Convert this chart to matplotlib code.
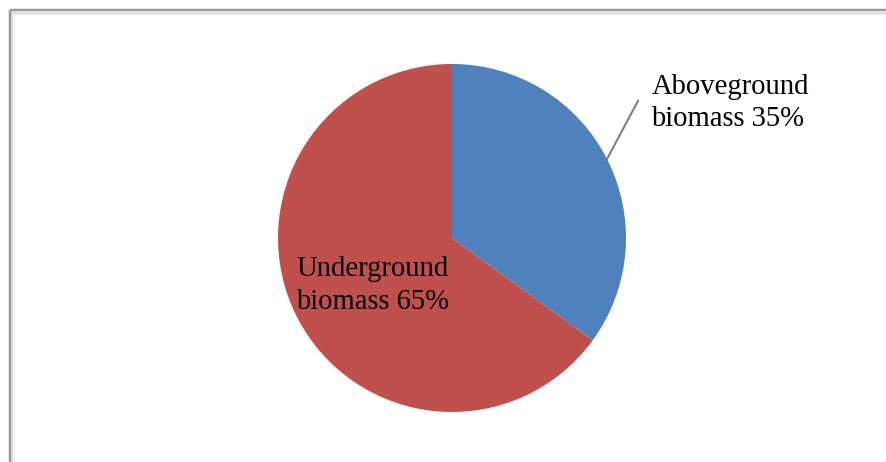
import numpy as np
import matplotlib.pyplot as plt
from matplotlib.lines import Line2D

# data
labels = ["Aboveground\nbiomass 35%", "Underground\nbiomass 65%"]
shares = [35, 65]
colors = ["#4F81BD", "#C0504D"]

W, H = 886, 462
fig = plt.figure(figsize=(W / 100, H / 100), dpi=100)
fig.patch.set_facecolor("white")

# chart area frame (only the top and left edges show in the crop)
px = 1.0 / W
py = 1.0 / H
for off, col, lw in [(10, "#999999", 2.5), (12.5, "#cfcfcf", 1.5), (14, "#ececec", 1.2)]:
    fig.add_artist(Line2D([off * px, off * px], [0, 1 - off * py], transform=fig.transFigure,
                          color=col, lw=lw * 0.72, solid_capstyle="butt"))
    fig.add_artist(Line2D([off * px, 1], [1 - off * py, 1 - off * py], transform=fig.transFigure,
                          color=col, lw=lw * 0.72, solid_capstyle="butt"))

# pie axes: centre (452, 238) px, radius 174 px
cx, cy, r = 452, 238, 174
ax = fig.add_axes([(cx - r) / W, (H - cy - r) / H, 2 * r / W, 2 * r / H])
wedges, _ = ax.pie(shares, colors=colors, startangle=90, counterclock=False,
                   radius=1.0, wedgeprops=dict(linewidth=0))
ax.set_xlim(-1, 1)
ax.set_ylim(-1, 1)
ax.axis("off")

font = dict(family="Liberation Serif", fontsize=20.6, color="black", linespacing=1.33)

# aboveground label with leader line from wedge middle
w0 = wedges[0]
mid = np.deg2rad((w0.theta1 + w0.theta2) / 2)
start = (np.cos(mid), np.sin(mid))
ax.annotate("", xy=start, xytext=(1.07, 0.79), annotation_clip=False,
            arrowprops=dict(arrowstyle="-", color="#7f7f7f", lw=1.5, shrinkA=0, shrinkB=0))
ax.text(1.145, 0.945, labels[0], ha="left", va="top", clip_on=False, **font)

# underground label inside the slice
ax.text(-0.895, -0.103, labels[1], ha="left", va="top", clip_on=False, **font)

fig.savefig("out.png", dpi=100, facecolor="white")
